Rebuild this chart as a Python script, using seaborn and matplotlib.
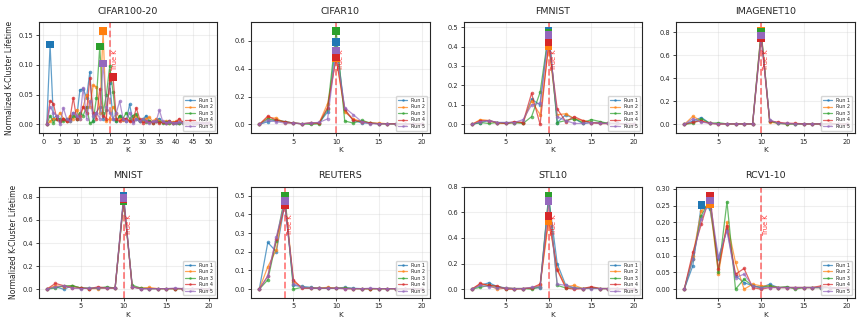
import numpy as np
import pandas as pd
import seaborn as sns
import matplotlib
matplotlib.use("Agg")
import matplotlib.pyplot as plt
from matplotlib.ticker import MultipleLocator

# -------------------------------
# Data: normalized K-cluster lifetime per run
# -------------------------------
runs = ["Run 1", "Run 2", "Run 3", "Run 4", "Run 5"]

cifar100_k = list(range(1, 51))
cifar100_true = 20
cifar100 = [
    [0, 0.134, 0.01, 0.015, 0.005, 0.01, 0.005, 0.01, 0.02, 0.01, 0.058, 0.06, 0.045, 0.088, 0.005, 0.02, 0.03, 0.01, 0.025, 0.07,
     0.01, 0.005, 0.015, 0.01, 0.005, 0.034, 0.005, 0.01, 0.005, 0.008, 0.015, 0.005, 0.004, 0.006, 0.01, 0.004, 0.003, 0.005, 0.003, 0.004,
     0.003, 0.004, 0.003, 0.002, 0.003, 0.002, 0.003, 0.002, 0.002, 0.002],
    [0, 0.005, 0.01, 0.01, 0.02, 0.01, 0.005, 0.015, 0.01, 0.025, 0.01, 0.03, 0.05, 0.03, 0.066, 0.063, 0.02, 0.157, 0.005, 0.01,
     0.03, 0.02, 0.01, 0.008, 0.01, 0.005, 0.01, 0.015, 0.008, 0.005, 0.01, 0.012, 0.005, 0.01, 0.005, 0.004, 0.006, 0.003, 0.004, 0.005,
     0.003, 0.004, 0.002, 0.003, 0.002, 0.003, 0.002, 0.002, 0.002, 0.002],
    [0, 0.015, 0.003, 0.01, 0.01, 0.005, 0.01, 0.005, 0.015, 0.01, 0.02, 0.015, 0.03, 0.002, 0.005, 0.045, 0.131, 0.02, 0.05, 0.098,
     0.054, 0.005, 0.015, 0.01, 0.02, 0.01, 0.015, 0.018, 0.005, 0.01, 0.004, 0.006, 0.003, 0.005, 0.004, 0.003, 0.004, 0.003, 0.002, 0.003,
     0.002, 0.003, 0.002, 0.002, 0.002, 0.002, 0.002, 0.002, 0.002, 0.002],
    [0, 0.04, 0.035, 0.01, 0.005, 0.01, 0.005, 0.01, 0.045, 0.01, 0.015, 0.03, 0.02, 0.078, 0.02, 0.01, 0.06, 0.015, 0.01, 0.075,
     0.08, 0.01, 0.005, 0.01, 0.01, 0.005, 0.005, 0.028, 0.01, 0.003, 0.005, 0.004, 0.003, 0.005, 0.003, 0.004, 0.003, 0.005, 0.003, 0.004,
     0.01, 0.004, 0.003, 0.002, 0.003, 0.002, 0.002, 0.002, 0.002, 0.002],
    [0, 0.03, 0.02, 0.015, 0.0, 0.028, 0.01, 0.005, 0.02, 0.015, 0.01, 0.062, 0.01, 0.04, 0.015, 0.02, 0.01, 0.102, 0.03, 0.02,
     0.01, 0.02, 0.039, 0.01, 0.005, 0.02, 0.003, 0.01, 0.005, 0.01, 0.005, 0.003, 0.005, 0.005, 0.024, 0.005, 0.003, 0.004, 0.003, 0.003,
     0.004, 0.003, 0.002, 0.003, 0.002, 0.002, 0.002, 0.002, 0.002, 0.002],
]

k20 = list(range(1, 21))

cifar10 = [
    [0, 0.02, 0.03, 0.02, 0.01, 0.005, 0.01, 0.01, 0.09, 0.59, 0.10, 0.03, 0.01, 0.01, 0.005, 0.005, 0.005, 0.005, 0.003, 0.003],
    [0, 0.05, 0.045, 0.01, 0.01, 0.005, 0.01, 0.01, 0.15, 0.475, 0.09, 0.04, 0.02, 0.01, 0.01, 0.005, 0.005, 0.005, 0.003, 0.003],
    [0, 0.04, 0.03, 0.02, 0.01, 0.005, 0.0, 0.005, 0.11, 0.67, 0.025, 0.01, 0.03, 0.01, 0.005, 0.005, 0.003, 0.003, 0.003, 0.003],
    [0, 0.06, 0.03, 0.02, 0.01, 0.005, 0.01, 0.01, 0.12, 0.48, 0.11, 0.03, 0.02, 0.01, 0.005, 0.005, 0.005, 0.003, 0.003, 0.003],
    [0, 0.03, 0.02, 0.01, 0.01, 0.005, 0.01, 0.015, 0.04, 0.53, 0.12, 0.07, 0.02, 0.005, 0.005, 0.005, 0.003, 0.003, 0.003, 0.003],
]

fmnist = [
    [0, 0.01, 0.02, 0.01, 0.01, 0.01, 0.01, 0.13, 0.10, 0.48, 0.01, 0.05, 0.03, 0.005, 0.01, 0.01, 0.005, 0.005, 0.003, 0.003],
    [0, 0.025, 0.02, 0.005, 0.005, 0.01, 0.01, 0.12, 0.05, 0.40, 0.05, 0.055, 0.03, 0.02, 0.01, 0.005, 0.005, 0.005, 0.003, 0.003],
    [0, 0.01, 0.005, 0.01, 0.005, 0.01, 0.005, 0.04, 0.165, 0.47, 0.01, 0.02, 0.03, 0.01, 0.025, 0.015, 0.005, 0.005, 0.003, 0.003],
    [0, 0.02, 0.02, 0.01, 0.005, 0.015, 0.01, 0.16, 0.0, 0.42, 0.08, 0.015, 0.04, 0.02, 0.01, 0.005, 0.005, 0.005, 0.003, 0.003],
    [0, 0.015, 0.02, 0.01, 0.01, 0.01, 0.025, 0.10, 0.11, 0.46, 0.04, 0.02, 0.005, 0.005, 0.01, 0.005, 0.005, 0.005, 0.003, 0.003],
]

imagenet10 = [
    [0, 0.03, 0.06, 0.01, 0.005, 0.005, 0.005, 0.005, 0.005, 0.79, 0.03, 0.01, 0.005, 0.005, 0.005, 0.005, 0.005, 0.005, 0.003, 0.003],
    [0, 0.07, 0.03, 0.01, 0.005, 0.005, 0.005, 0.005, 0.005, 0.81, 0.02, 0.01, 0.005, 0.005, 0.005, 0.005, 0.005, 0.01, 0.003, 0.003],
    [0, 0.01, 0.05, 0.01, 0.015, 0.005, 0.005, 0.005, 0.005, 0.80, 0.03, 0.01, 0.005, 0.005, 0.005, 0.005, 0.005, 0.005, 0.003, 0.003],
    [0, 0.02, 0.03, 0.01, 0.005, 0.005, 0.005, 0.005, 0.005, 0.75, 0.03, 0.02, 0.01, 0.01, 0.005, 0.005, 0.005, 0.005, 0.003, 0.003],
    [0, 0.05, 0.02, 0.01, 0.005, 0.005, 0.005, 0.005, 0.005, 0.77, 0.04, 0.01, 0.01, 0.005, 0.005, 0.005, 0.005, 0.005, 0.003, 0.003],
]

mnist = [
    [0, 0.02, 0.0, 0.03, 0.01, 0.005, 0.01, 0.01, 0.01, 0.81, 0.02, 0.005, 0.005, 0.005, 0.005, 0.005, 0.005, 0.005, 0.003, 0.003],
    [0, 0.03, 0.02, 0.03, 0.01, 0.005, 0.005, 0.01, 0.01, 0.77, 0.02, 0.01, 0.015, 0.005, 0.005, 0.005, 0.005, 0.005, 0.003, 0.003],
    [0, 0.01, 0.03, 0.03, 0.01, 0.01, 0.01, 0.02, 0.01, 0.76, 0.035, 0.01, 0.005, 0.005, 0.005, 0.005, 0.005, 0.005, 0.003, 0.003],
    [0, 0.05, 0.03, 0.01, 0.01, 0.005, 0.02, 0.01, 0.01, 0.78, 0.02, 0.005, 0.005, 0.005, 0.005, 0.005, 0.005, 0.005, 0.003, 0.003],
    [0, 0.02, 0.03, 0.01, 0.005, 0.01, 0.01, 0.01, 0.01, 0.79, 0.02, 0.005, 0.005, 0.005, 0.005, 0.01, 0.005, 0.005, 0.003, 0.003],
]

reuters = [
    [0, 0.25, 0.20, 0.46, 0.02, 0.015, 0.01, 0.005, 0.005, 0.005, 0.01, 0.005, 0.003, 0.003, 0.003, 0.003, 0.003, 0.002, 0.002, 0.002],
    [0, 0.12, 0.21, 0.49, 0.04, 0.01, 0.005, 0.005, 0.01, 0.005, 0.005, 0.003, 0.003, 0.003, 0.003, 0.003, 0.003, 0.002, 0.002, 0.002],
    [0, 0.05, 0.26, 0.50, 0.0, 0.01, 0.005, 0.005, 0.005, 0.005, 0.005, 0.003, 0.003, 0.003, 0.003, 0.003, 0.003, 0.002, 0.002, 0.002],
    [0, 0.07, 0.27, 0.45, 0.05, 0.005, 0.005, 0.005, 0.005, 0.005, 0.003, 0.003, 0.003, 0.003, 0.003, 0.003, 0.003, 0.002, 0.002, 0.002],
    [0, 0.07, 0.28, 0.47, 0.03, 0.01, 0.005, 0.005, 0.005, 0.005, 0.003, 0.003, 0.003, 0.005, 0.003, 0.003, 0.003, 0.002, 0.002, 0.002],
]

stl10 = [
    [0, 0.03, 0.05, 0.02, 0.01, 0.005, 0.005, 0.01, 0.01, 0.72, 0.20, 0.03, 0.01, 0.005, 0.01, 0.005, 0.005, 0.005, 0.003, 0.003],
    [0, 0.04, 0.03, 0.0, 0.01, 0.005, 0.005, 0.01, 0.03, 0.53, 0.16, 0.02, 0.03, 0.005, 0.01, 0.005, 0.005, 0.005, 0.003, 0.003],
    [0, 0.015, 0.03, 0.02, 0.005, 0.005, 0.005, 0.0, 0.02, 0.73, 0.03, 0.01, 0.01, 0.005, 0.01, 0.005, 0.005, 0.005, 0.003, 0.003],
    [0, 0.045, 0.03, 0.025, 0.0, 0.0, 0.005, 0.01, 0.04, 0.57, 0.15, 0.01, 0.0, 0.005, 0.02, 0.005, 0.005, 0.005, 0.003, 0.003],
    [0, 0.03, 0.02, 0.01, 0.01, 0.005, 0.005, 0.015, 0.02, 0.69, 0.04, 0.03, 0.01, 0.005, 0.005, 0.005, 0.005, 0.005, 0.003, 0.003],
]

rcv1 = [
    [0, 0.07, 0.252, 0.24, 0.09, 0.18, 0.04, 0.02, 0.01, 0.005, 0.015, 0.005, 0.005, 0.005, 0.005, 0.005, 0.005, 0.005, 0.003, 0.003],
    [0, 0.10, 0.235, 0.255, 0.045, 0.20, 0.08, 0.0, 0.015, 0.01, 0.01, 0.005, 0.005, 0.005, 0.005, 0.005, 0.005, 0.005, 0.003, 0.003],
    [0, 0.09, 0.22, 0.27, 0.05, 0.262, 0.0, 0.03, 0.01, 0.005, 0.01, 0.005, 0.008, 0.0, 0.005, 0.005, 0.005, 0.005, 0.003, 0.003],
    [0, 0.11, 0.195, 0.28, 0.06, 0.19, 0.045, 0.062, 0.005, 0.0, 0.005, 0.005, 0.005, 0.005, 0.005, 0.005, 0.01, 0.005, 0.003, 0.003],
    [0, 0.09, 0.21, 0.265, 0.095, 0.175, 0.035, 0.045, 0.01, 0.005, 0.005, 0.005, 0.005, 0.005, 0.005, 0.005, 0.005, 0.005, 0.003, 0.003],
]

# name, K values, runs, true K, y tick step
panels = [
    ("CIFAR100-20", cifar100_k, cifar100, cifar100_true, 0.05),
    ("CIFAR10", k20, cifar10, 10, 0.2),
    ("FMNIST", k20, fmnist, 10, 0.1),
    ("IMAGENET10", k20, imagenet10, 10, 0.2),
    ("MNIST", k20, mnist, 10, 0.2),
    ("REUTERS", k20, reuters, 4, 0.1),
    ("STL10", k20, stl10, 10, 0.2),
    ("RCV1-10", k20, rcv1, 10, 0.05),
]

# -------------------------------
# Plot
# -------------------------------
sns.set_style("ticks")
plt.rcParams['font.family'] = ['DejaVu Sans']
colors = sns.color_palette("tab10", 5)

fig, axes = plt.subplots(2, 4, figsize=(8.59, 3.31), dpi=100)
fig.subplots_adjust(left=0.045, right=0.995, top=0.934, bottom=0.10, wspace=0.19, hspace=0.48)

for ax, (name, ks, series, true_k, ystep) in zip(axes.flat, panels):
    df = pd.DataFrame({
        'K': np.tile(ks, len(runs)),
        'value': np.concatenate(series),
        'Run': np.repeat(runs, len(ks)),
    })
    sns.lineplot(data=df, x='K', y='value', hue='Run', palette=colors, marker='o',
                 markersize=2.6, linewidth=0.9, alpha=0.7, markeredgewidth=0, ax=ax)

    # best K per run
    best = df.loc[df.groupby('Run')['value'].idxmax()]
    sns.scatterplot(data=best, x='K', y='value', hue='Run', palette=colors, marker='s',
                    s=30, linewidth=0, legend=False, zorder=5, ax=ax)

    ax.axvline(true_k, color='red', linestyle='--', linewidth=1.3, alpha=0.5, zorder=1)
    ymax = df['value'].max()
    ax.set_ylim(-0.093 * ymax, 1.097 * ymax)
    ax.text(true_k + 0.25 * (len(ks) / 20), ymax * 0.8, 'True K', color='red', rotation=90,
            fontsize=4.8, ha='left', va='top', alpha=0.8)

    ax.yaxis.set_major_locator(MultipleLocator(ystep))
    ax.grid(True, alpha=0.3)
    ax.set_title(name, fontsize=6.8)
    ax.set_xlabel('K', fontsize=5.2, labelpad=1.5)
    ax.set_ylabel('')
    ax.tick_params(labelsize=4.8, length=2.5, width=0.6, pad=1.5)
    for sp in ax.spines.values():
        sp.set_linewidth(0.8)
    ax.legend(loc='lower right', fontsize=3.5, markerscale=0.7, handlelength=2,
              borderpad=0.4, labelspacing=0.3)

axes[0, 0].set_xticks(range(0, 51, 5))
axes[0, 0].yaxis.set_major_formatter(plt.FormatStrFormatter('%.2f'))
axes[1, 3].yaxis.set_major_formatter(plt.FormatStrFormatter('%.2f'))
for ax in axes[:, 0]:
    ax.set_ylabel('Normalized K-Cluster Lifetime', fontsize=5.5, labelpad=3)

plt.savefig('out.png', dpi=100)
